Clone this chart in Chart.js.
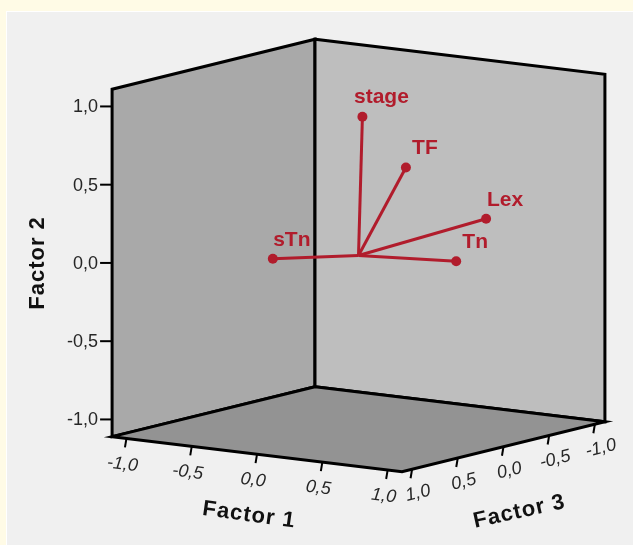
<!DOCTYPE html>
<html>
	<head>
		<meta charset="utf-8">
		<title>Factor loadings 3D</title>
		<script src="https://cdn.jsdelivr.net/npm/chart.js"></script>
		<style>
			body {
				margin: 0;
				background-color: #fffbe6;
			}

			#plot {
				display: block;
			}
		</style>
	</head>
	<body>
		<canvas id="plot" width="633" height="545"></canvas>
		<script>
			// loadings
			const variables = ['stage', 'TF', 'Lex', 'Tn', 'sTn'];
			const factor1 = [0.03, 0.30, 0.90, 0.72, -0.60];
			const factor2 = [0.89, 0.58, 0.31, 0.03, -0.07];
			const factor3 = [0.00, -0.09, -0.11, -0.04, 0.08];

			const tickValues = [-1, -0.5, 0, 0.5, 1];
			const tickLabels = ['-1,0', '-0,5', '0,0', '0,5', '1,0'];
			const axisTitles = ['Factor 1', 'Factor 2', 'Factor 3'];
			const axisMin = -1.11;
			const axisMax = 1.11;

			const red = '#b11c2c';

			// oblique projection of (f1, f2, f3) onto the flat chart
			function project(f1, f2, f3) {
				return {
					x: f1 * 0.8345 - f3 * 0.584,
					y: f2 - f1 * 0.101 - f3 * 0.1438
				};
			}

			function face(corners) {
				const pts = corners.map(c => project(c[0], c[1], c[2]));
				pts.push(pts[0]);
				return pts;
			}

			const lo = axisMin, hi = axisMax;
			const leftWall = face([[lo, lo, lo], [lo, lo, hi], [lo, hi, hi], [lo, hi, lo]]);
			const rightWall = face([[lo, lo, lo], [hi, lo, lo], [hi, hi, lo], [lo, hi, lo]]);
			const floor = face([[lo, lo, lo], [hi, lo, lo], [hi, lo, hi], [lo, lo, hi]]);

			const origin = project(0, 0, 0);
			const ends = variables.map((v, i) => project(factor1[i], factor2[i], factor3[i]));

			// scale: 156.5 px per unit, origin at (358.5, 255.5)
			const W = 633, H = 545, unit = 156.5, cx = 358.5, cy = 255.5;

			function wall(data, color, order) {
				return {
					data: data,
					showLine: true,
					fill: 'shape',
					backgroundColor: color,
					borderColor: '#000',
					borderWidth: 3,
					borderJoinStyle: 'miter',
					pointRadius: 0,
					tension: 0,
					order: order,
					clip: false
				};
			}

			const datasets = [
				wall(leftWall, '#a9a9a9', 10),
				wall(rightWall, '#bebebe', 9),
				wall(floor, '#939393', 8)
			];
			ends.forEach(p => {
				datasets.push({
					data: [origin, p],
					showLine: true,
					borderColor: red,
					borderWidth: 3,
					pointRadius: 0,
					order: 2,
					clip: false
				});
			});
			datasets.push({
				data: ends,
				showLine: false,
				pointRadius: 5,
				pointBackgroundColor: red,
				pointBorderWidth: 0,
				order: 1,
				clip: false
			});

			const panel = {
				id: 'panel',
				beforeDraw(chart) {
					const c = chart.ctx;
					c.save();
					c.fillStyle = '#fffbe6';
					c.fillRect(0, 0, W, H);
					c.fillStyle = '#ffffff';
					c.fillRect(6, 11, W - 6, H - 11);
					c.fillStyle = '#f0f0f0';
					c.fillRect(7, 12, W - 7, H - 12);
					c.restore();
				}
			};

			function px(chart, p) {
				return {
					x: chart.scales.x.getPixelForValue(p.x),
					y: chart.scales.y.getPixelForValue(p.y)
				};
			}

			function rotatedText(c, text, x, y, angle, font, spacing) {
				c.save();
				c.translate(x, y);
				c.rotate(angle * Math.PI / 180);
				c.font = font;
				if (spacing) c.letterSpacing = spacing;
				c.textAlign = 'center';
				c.textBaseline = 'middle';
				c.fillText(text, 0, 0);
				c.restore();
			}

			const axes3d = {
				id: 'axes3d',
				afterDatasetsDraw(chart) {
					const c = chart.ctx;
					c.save();
					c.strokeStyle = '#000';
					c.lineWidth = 2;
					c.fillStyle = '#262626';

					tickValues.forEach((v, i) => {
						// Factor 2 on the left edge
						let p = px(chart, project(lo, v, hi));
						c.beginPath();
						c.moveTo(p.x - 12, p.y);
						c.lineTo(p.x, p.y);
						c.stroke();
						c.font = '18px "Liberation Sans", Arial, sans-serif';
						c.textAlign = 'right';
						c.textBaseline = 'middle';
						c.fillText(tickLabels[i], p.x - 14, p.y + 1);

						// Factor 1 on the front-left floor edge
						p = px(chart, project(v, lo, hi));
						c.beginPath();
						c.moveTo(p.x, p.y);
						c.lineTo(p.x - 1.5, p.y + 9);
						c.stroke();
						rotatedText(c, tickLabels[i], p.x - 4, p.y + 26, 6.9, 'italic 18px "Liberation Sans", Arial, sans-serif');

						// Factor 3 on the front-right floor edge
						p = px(chart, project(hi, lo, v));
						c.beginPath();
						c.moveTo(p.x, p.y);
						c.lineTo(p.x - 1.5, p.y + 9);
						c.stroke();
						rotatedText(c, tickLabels[i], p.x + 6, p.y + 24, -13.8, 'italic 18px "Liberation Sans", Arial, sans-serif');
					});

					c.fillStyle = '#111';
					const bold = 'bold 22px "Liberation Sans", Arial, sans-serif';
					let p = px(chart, project(0, lo, hi));
					rotatedText(c, axisTitles[0], p.x - 8, p.y + 61, 8, bold, '1px');
					p = px(chart, project(lo, 0, hi));
					rotatedText(c, axisTitles[1], p.x - 74, p.y, -90, bold, '1px');
					p = px(chart, project(hi, lo, 0));
					rotatedText(c, axisTitles[2], p.x + 16, p.y + 65, -12.5, bold, '1px');

					// variable names
					c.fillStyle = red;
					c.font = 'bold 21px "Liberation Sans", Arial, sans-serif';
					c.textAlign = 'center';
					c.textBaseline = 'middle';
					ends.forEach((e, i) => {
						const q = px(chart, e);
						c.fillText(variables[i], q.x + 19, q.y - 19);
					});
					c.restore();
				}
			};

			new Chart(document.getElementById('plot'), {
				type: 'scatter',
				data: { datasets: datasets },
				options: {
					responsive: false,
					animation: false,
					layout: { padding: 0, autoPadding: false },
					plugins: {
						legend: { display: false },
						tooltip: { enabled: false }
					},
					scales: {
						x: { type: 'linear', display: false, min: -cx / unit, max: (W - cx) / unit },
						y: { type: 'linear', display: false, min: -(H - cy) / unit, max: cy / unit }
					}
				},
				plugins: [panel, axes3d]
			});
		</script>
	</body>
</html>
